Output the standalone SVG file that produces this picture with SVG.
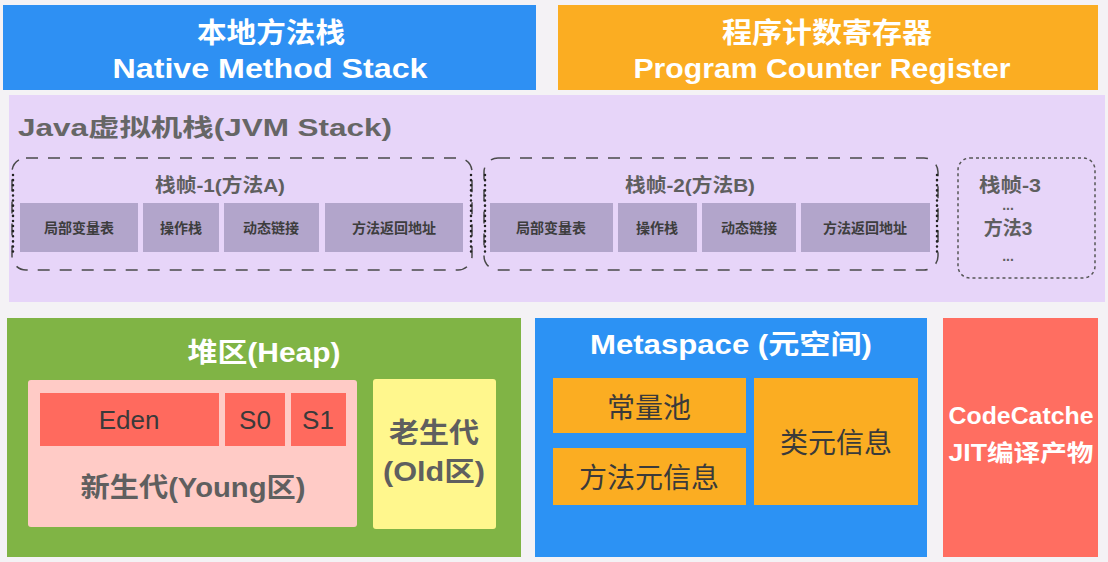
<svg xmlns="http://www.w3.org/2000/svg" width="1108" height="562" viewBox="0 0 1108 562">
<style>
.t{font-family:"Liberation Sans","Noto Sans CJK SC",sans-serif;text-anchor:middle}
.w{fill:#ffffff;font-weight:bold}
.g{fill:#5f5f5f;font-weight:bold}
.d{fill:#3a3a3a}
.sub{fill:#b2a5cb}
.cell{font-size:14px;fill:#3d3d3d;font-weight:bold}
.frame{fill:none;stroke:#4a4a4a;stroke-width:1.5;stroke-dasharray:12 10}
.side{fill:none;stroke:#222;stroke-width:2.5;stroke-dasharray:0.1 5;stroke-linecap:round}
</style>
<rect x="0" y="0" width="1108" height="562" fill="#f4f2f5"/>
<g id="native-method-stack">
<rect x="3" y="5" width="533" height="85" fill="#2e90f3"/>
<text class="t w" x="271" y="43" font-size="28" textLength="148" lengthAdjust="spacingAndGlyphs">本地方法栈</text>
<text class="t w" x="270" y="78" font-size="27" textLength="315" lengthAdjust="spacingAndGlyphs">Native Method Stack</text>
</g>
<g id="program-counter-register">
<rect x="558" y="5" width="540" height="85" fill="#fbad22"/>
<text class="t w" x="827" y="43" font-size="28" textLength="210" lengthAdjust="spacingAndGlyphs">程序计数寄存器</text>
<text class="t w" x="822" y="78" font-size="27" textLength="377" lengthAdjust="spacingAndGlyphs">Program Counter Register</text>
</g>
<g id="jvm-stack">
<rect x="9" y="95" width="1096" height="207" fill="#e7d5f9"/>
<text x="18" y="136" font-family="Liberation Sans,Noto Sans CJK SC,sans-serif" font-size="24" font-weight="bold" fill="#666666" textLength="374" lengthAdjust="spacingAndGlyphs">Java虚拟机栈(JVM Stack)</text>
</g>
<g id="frame-1">
<rect class="frame" x="12" y="158" width="460" height="112" rx="14"/>
<path class="side" d="M13 175 V254 M471 175 V254"/>
<text class="t g" x="220" y="192" font-size="19" textLength="130" lengthAdjust="spacingAndGlyphs">栈帧-1(方法A)</text>
<rect class="sub" x="20" y="203" width="118" height="49"/>
<rect class="sub" x="143" y="203" width="76" height="49"/>
<rect class="sub" x="224" y="203" width="95" height="49"/>
<rect class="sub" x="325" y="203" width="138" height="49"/>
<text class="t cell" x="79" y="233">局部变量表</text>
<text class="t cell" x="181" y="233">操作栈</text>
<text class="t cell" x="271" y="233">动态链接</text>
<text class="t cell" x="394" y="233">方法返回地址</text>
</g>
<g id="frame-2">
<rect class="frame" x="484" y="158" width="454" height="112" rx="14"/>
<path class="side" d="M485 175 V254 M937 175 V254"/>
<text class="t g" x="690" y="192" font-size="19" textLength="130" lengthAdjust="spacingAndGlyphs">栈帧-2(方法B)</text>
<rect class="sub" x="490" y="203" width="123" height="49"/>
<rect class="sub" x="618" y="203" width="79" height="49"/>
<rect class="sub" x="702" y="203" width="94" height="49"/>
<rect class="sub" x="801" y="203" width="129" height="49"/>
<text class="t cell" x="551" y="233">局部变量表</text>
<text class="t cell" x="657" y="233">操作栈</text>
<text class="t cell" x="749" y="233">动态链接</text>
<text class="t cell" x="865" y="233">方法返回地址</text>
</g>
<g id="frame-3">
<rect x="958" y="158" width="137" height="120" rx="12" fill="none" stroke="#555" stroke-width="1.5" stroke-dasharray="3 3"/>
<text class="t g" x="1010" y="192" font-size="19" textLength="62" lengthAdjust="spacingAndGlyphs">栈帧-3</text>
<text class="t g" x="1008" y="210" font-size="14">...</text>
<text class="t g" x="1008" y="235" font-size="19">方法3</text>
<text class="t g" x="1008" y="261" font-size="14">...</text>
</g>
<g id="heap">
<rect x="7" y="318" width="514" height="239" fill="#80b445"/>
<text class="t w" x="264" y="362" font-size="27" textLength="153" lengthAdjust="spacingAndGlyphs">堆区(Heap)</text>
</g>
<g id="young">
<rect x="28" y="380" width="329" height="147" rx="3" fill="#ffcbc6"/>
<text class="t g" x="193" y="497" font-size="27" fill="#6a6a6a" textLength="225" lengthAdjust="spacingAndGlyphs">新生代(Young区)</text>
</g>
<g id="eden">
<rect x="40" y="393" width="179" height="53" fill="#ff6a5e"/>
<text class="t d" x="129" y="429" font-size="26">Eden</text>
</g>
<g id="s0">
<rect x="225" y="393" width="60" height="53" fill="#ff6a5e"/>
<text class="t d" x="255" y="429" font-size="26">S0</text>
</g>
<g id="s1">
<rect x="291" y="393" width="55" height="53" fill="#ff6a5e"/>
<text class="t d" x="318" y="429" font-size="26">S1</text>
</g>
<g id="old">
<rect x="373" y="379" width="123" height="150" rx="3" fill="#fff78d"/>
<text class="t g" x="434" y="443" font-size="28" textLength="90" lengthAdjust="spacingAndGlyphs">老生代</text>
<text class="t g" x="434" y="481" font-size="27" textLength="102" lengthAdjust="spacingAndGlyphs">(Old区)</text>
</g>
<g id="metaspace">
<rect x="535" y="318" width="392" height="239" fill="#2c92f4"/>
<text class="t w" x="731" y="354" font-size="27" textLength="282" lengthAdjust="spacingAndGlyphs">Metaspace (元空间)</text>
</g>
<g id="constant-pool">
<rect x="553" y="378" width="193" height="55" fill="#fbad22"/>
<text class="t d" x="649" y="418" font-size="28">常量池</text>
</g>
<g id="method-meta">
<rect x="553" y="448" width="193" height="57" fill="#fbad22"/>
<text class="t d" x="649" y="488" font-size="28">方法元信息</text>
</g>
<g id="class-meta">
<rect x="754" y="378" width="164" height="127" fill="#fbad22"/>
<text class="t d" x="836" y="453" font-size="28">类元信息</text>
</g>
<g id="code-cache">
<rect x="943" y="318" width="155" height="239" fill="#ff6e61"/>
<text class="t w" x="1021" y="424" font-size="23" textLength="145" lengthAdjust="spacingAndGlyphs">CodeCatche</text>
<text class="t w" x="1021" y="461" font-size="23" textLength="145" lengthAdjust="spacingAndGlyphs">JIT编译产物</text>
</g>
<g id="connectors"></g>
</svg>
